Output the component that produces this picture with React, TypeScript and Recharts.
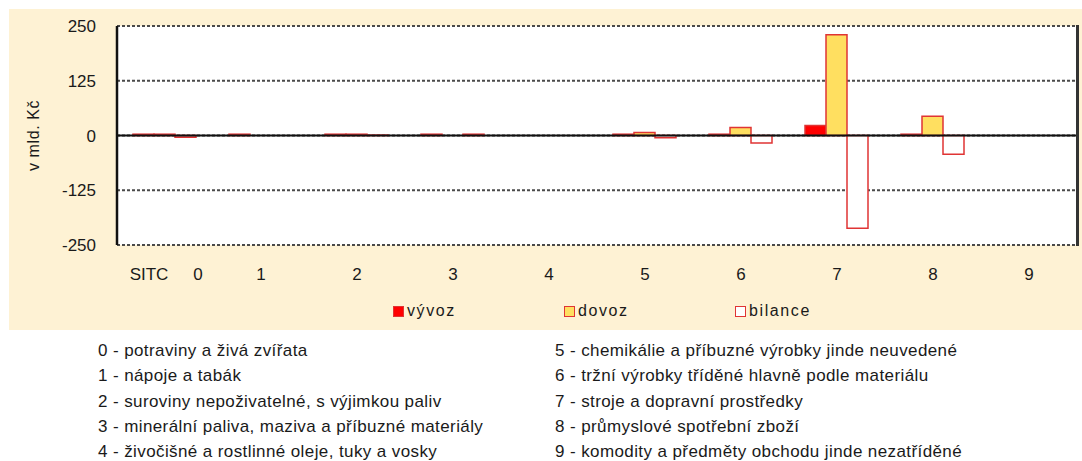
import { BarChart, Bar, XAxis, YAxis, CartesianGrid, ReferenceLine } from "recharts";

const categories = ["0", "1", "2", "3", "4", "5", "6", "7", "8", "9"];
const vyvoz = [3, 3, 3, 3, 0, 3, 3, 23, 3, 0];
const dovoz = [3, 0, 3, 0, 0, 7, 18, 230, 44, 0];
const bilance = [-4, 0, 1, 3, 0, -5, -17, -212, -43, 0];
const yTicks = [-250, -125, 0, 125, 250];

const legendItems = [
  { name: "vývoz", fill: "#ff0000" },
  { name: "dovoz", fill: "#ffdf60" },
  { name: "bilance", fill: "#ffffff" },
];

const sitcLeft = [
  "0 - potraviny a živá zvířata",
  "1 - nápoje a tabák",
  "2 - suroviny nepoživatelné, s výjimkou paliv",
  "3 - minerální paliva, maziva a příbuzné materiály",
  "4 - živočišné a rostlinné oleje, tuky a vosky",
];
const sitcRight = [
  "5 - chemikálie a příbuzné výrobky jinde neuvedené",
  "6 - tržní výrobky tříděné hlavně podle materiálu",
  "7 - stroje a dopravní prostředky",
  "8 - průmyslové spotřební zboží",
  "9 - komodity a předměty obchodu jinde nezatříděné",
];

const data = categories.map((c, i) => ({
  cat: c,
  vyvoz: vyvoz[i],
  dovoz: dovoz[i],
  bilance: bilance[i],
}));

const FONT = '"Liberation Sans", Arial, sans-serif';
const RED = "#e03434";
const INK = "#1a1a1a";

const XTick = ({ x, y, payload }: any) => {
  const common = { textAnchor: "middle" as const, fontSize: 17, fill: INK, fontFamily: FONT };
  if (payload.index === 0) {
    return (
      <g>
        <text x={x - 16} y={y + 35} {...common}>
          SITC
        </text>
        <text x={x + 33} y={y + 35} {...common}>
          {payload.value}
        </text>
      </g>
    );
  }
  return (
    <text x={x} y={y + 35} {...common}>
      {payload.value}
    </text>
  );
};

export default function App() {
  return (
    <>
      {/* the frame runs to the window edge, so drop the default body margin */}
      <style>{"body{margin:0}"}</style>
      <div
        style={{
          position: "relative",
          width: 1082,
          height: 461,
          overflow: "hidden",
          fontFamily: FONT,
          color: INK,
        }}
      >
        <div style={{ position: "absolute", left: 9, top: 9, width: 1073, height: 321, background: "#fef2d4" }}>
          <BarChart
            width={1073}
            height={321}
            data={data}
            margin={{ top: 17, right: 5, left: 0, bottom: 45 }}
            barCategoryGap={16}
            barGap={0}
          >
            <CartesianGrid vertical={false} stroke="#4a4a4a" strokeDasharray="3 2" strokeWidth={2} fill="#ffffff" />
            <XAxis
              dataKey="cat"
              axisLine={false}
              tickLine={false}
              tickSize={0}
              tickMargin={0}
              height={40}
              tick={<XTick />}
              interval={0}
            />
            <YAxis
              domain={[-250, 250]}
              ticks={yTicks}
              width={108}
              axisLine={{ stroke: "#111", strokeWidth: 2.5 }}
              tickLine={false}
              tickSize={0}
              tickMargin={21}
              tick={{ fontSize: 17, fill: INK, fontFamily: FONT }}
              label={{
                value: "v mld. Kč",
                angle: -90,
                position: "insideLeft",
                offset: 24,
                style: { textAnchor: "middle", fontSize: 16, fill: INK, fontFamily: FONT, letterSpacing: 0.6 },
              }}
            />
            <Bar dataKey="vyvoz" name="vývoz" fill="#ff0000" stroke={RED} strokeWidth={1.5} isAnimationActive={false} />
            <Bar dataKey="dovoz" name="dovoz" fill="#ffdf60" stroke={RED} strokeWidth={1.5} isAnimationActive={false} />
            <Bar dataKey="bilance" name="bilance" fill="#ffffff" stroke={RED} strokeWidth={1.5} isAnimationActive={false} />
            <ReferenceLine y={0} stroke="#111" strokeWidth={2} />
          </BarChart>
          {/* right edge of the plot frame */}
          <div style={{ position: "absolute", left: 1067, top: 16, width: 2.5, height: 221, background: "#333" }} />
          <div style={{ position: "absolute", left: 384, top: 292, display: "flex", fontSize: 16, letterSpacing: 1.6 }}>
            {legendItems.map((it) => (
              <div key={it.name} style={{ width: 171, display: "flex", alignItems: "center", height: 20 }}>
                <span
                  style={{
                    display: "inline-block",
                    width: 9,
                    height: 9,
                    background: it.fill,
                    border: `1.5px solid ${RED}`,
                    marginRight: 3,
                  }}
                />
                <span>{it.name}</span>
              </div>
            ))}
          </div>
        </div>
        <div
          style={{
            position: "absolute",
            left: 98,
            top: 338,
            fontSize: 17,
            letterSpacing: 0.4,
            lineHeight: "25.3px",
            whiteSpace: "nowrap",
          }}
        >
          {sitcLeft.map((t) => (
            <div key={t}>{t}</div>
          ))}
        </div>
        <div
          style={{
            position: "absolute",
            left: 555,
            top: 338,
            fontSize: 17,
            letterSpacing: 0.4,
            lineHeight: "25.3px",
            whiteSpace: "nowrap",
          }}
        >
          {sitcRight.map((t) => (
            <div key={t}>{t}</div>
          ))}
        </div>
      </div>
    </>
  );
}
